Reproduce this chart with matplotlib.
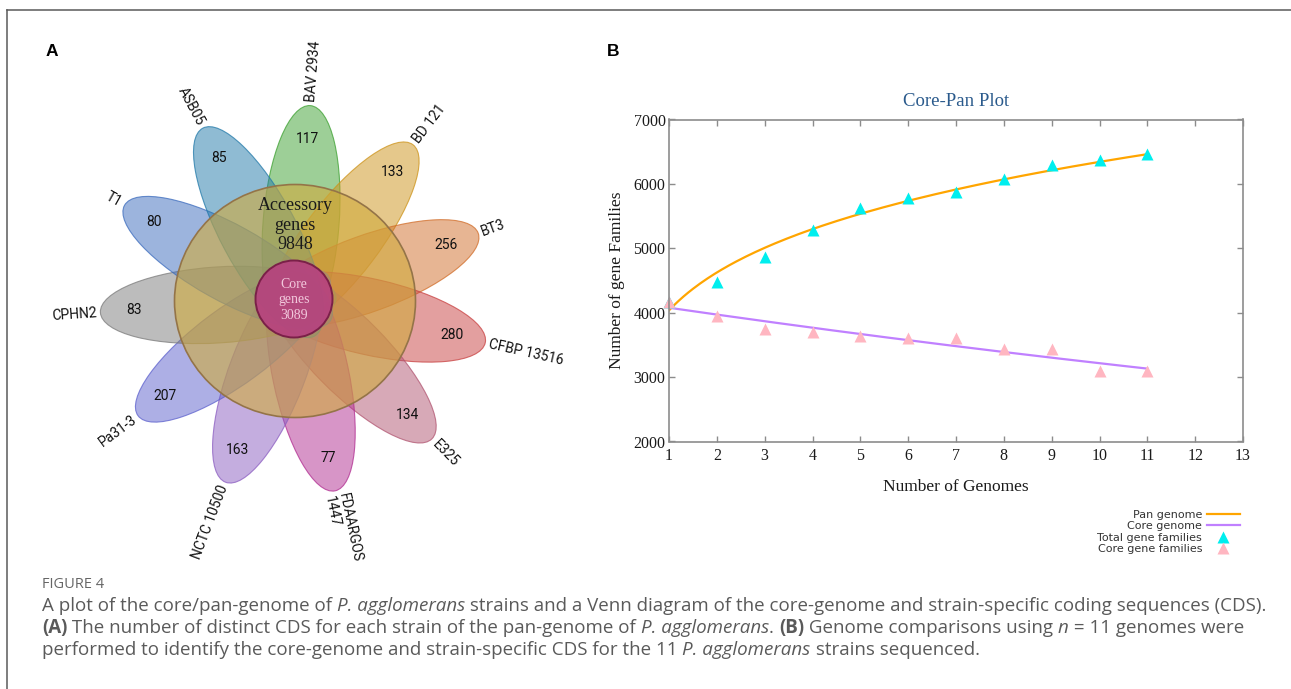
import matplotlib
matplotlib.use('Agg')
import matplotlib.pyplot as plt
from matplotlib.patches import Ellipse
from matplotlib.lines import Line2D
from matplotlib.colors import to_rgba
from matplotlib.transforms import IdentityTransform
import numpy as np

W, H = 1291, 689

# ---- panel A: flower diagram ----
strains = ['BAV 2934', 'BD 121', 'BT3', 'CFBP 13516', 'E325', 'FDAARGOS\n1447',
           'NCTC 10500', 'Pa31-3', 'CPHN2', 'T1', 'ASB05']
unique_cds = [117, 133, 256, 280, 134, 77, 163, 207, 83, 80, 85]
accessory_genes = 9848
core_genes = 3089
petal_colors = ['#3da131', '#cd9319', '#d16d29', '#c94141', '#b15571', '#b12d91',
                '#8b5dc1', '#5d61cd', '#7b7b7b', '#3b6bbd', '#2179a9']

# ---- panel B: core-pan plot ----
genomes = [1, 2, 3, 4, 5, 6, 7, 8, 9, 10, 11]
total_families = [4170, 4480, 4868, 5282, 5619, 5774, 5872, 6069, 6291, 6368, 6457]
core_families = [4170, 3952, 3746, 3695, 3642, 3602, 3602, 3431, 3431, 3095, 3089]

fig = plt.figure(figsize=(W / 100, H / 100), dpi=100)

# page frame lines (top and left)
fig.add_artist(Line2D([7 / W, 7 / W], [0, 1 - 10 / H], color='#5a5a5a', lw=1.1))
fig.add_artist(Line2D([7 / W, 1], [1 - 10 / H, 1 - 10 / H], color='#5a5a5a', lw=1.1))

# panel A, one data unit = one pixel, origin at flower centre
axa = fig.add_axes([0, 0, 600 / W, 1])
axa.set_xlim(-295, 305)
axa.set_ylim(-(H - 300), 300)
axa.axis('off')

n = len(strains)
start = 85.5
for i, (name, count, col) in enumerate(zip(strains, unique_cds, petal_colors)):
    th = start - i * 360 / n
    c, s = np.cos(np.radians(th)), np.sin(np.radians(th))
    axa.add_patch(Ellipse((77 * c, 77 * s), 236, 76, angle=th,
                          facecolor=to_rgba(col, 0.5), edgecolor=to_rgba(col, 0.75), lw=0.8))
    axa.text(161 * c, 161 * s, str(count), ha='center', va='center',
             fontsize=10, family='Roboto', color='#111111')
    if c > 0:
        rot, ha = th, 'left'
    else:
        rot, ha = th - 180 if th > 0 else th + 180, 'right'
    axa.text(199 * c, 199 * s, name, ha=ha, va='center', rotation=rot,
             rotation_mode='anchor', fontsize=10, family='Roboto', color='#111111',
             multialignment='left', linespacing=1.0)

axa.add_patch(Ellipse((0, -1), 241, 233, facecolor=to_rgba('#d0aa3c', 0.6),
                      edgecolor='#947448', lw=1.2))
axa.add_patch(Ellipse((-1, 1), 77, 77, facecolor=to_rgba('#b83e80', 0.88),
                      edgecolor='#7a2048', lw=1.4))
axa.text(0, 75, f'Accessory\ngenes\n{accessory_genes}', ha='center', va='center',
         fontsize=13, family='Liberation Serif', color='#1a1a1a', linespacing=1.2)
axa.text(-1, 0, f'Core\ngenes\n{core_genes}', ha='center', va='center',
         fontsize=10, family='Liberation Serif', color='#f2c8dc', linespacing=1.25)

fig.text(52 / W, 1 - 52 / H, 'A', fontsize=12.5, weight='bold', family='Liberation Sans',
         ha='center', va='center')
fig.text(613 / W, 1 - 52 / H, 'B', fontsize=12.5, weight='bold', family='Liberation Sans',
         ha='center', va='center')

# panel B
axb = fig.add_axes([669 / W, (H - 441.5) / H, 574 / W, 322 / H])
xs = np.array(genomes, dtype=float)
pb, pa = np.polyfit(np.log(xs), np.log(total_families), 1)
cb, ca = np.polyfit(xs, np.log(core_families), 1)
xf = np.linspace(xs.min(), xs.max(), 200)
axb.plot(xf, np.exp(pa) * xf ** pb, color='#ffa500', lw=1.6, label='Pan genome')
axb.plot(xf, np.exp(ca + cb * xf), color='#c080ff', lw=1.6, label='Core genome')
axb.plot(genomes, total_families, '^', color='#00eeee', ms=8, mec='none',
         label='Total gene families', clip_on=False)
axb.plot(genomes, core_families, '^', color='#ffb6c1', ms=8, mec='none',
         label='Core gene families', clip_on=False)

axb.set_xlim(1, 13)
axb.set_ylim(2000, 7000)
axb.set_xticks(range(1, 14))
axb.set_yticks(range(2000, 7001, 1000))
for sp in axb.spines.values():
    sp.set_color('#8c8c8c')
    sp.set_linewidth(1.2)
axb.tick_params(direction='in', length=4, width=1, color='#8c8c8c', top=True, right=True,
                labelsize=11.5, labelcolor='#1a1a1a')
axb.tick_params(axis='x', pad=5)
axb.tick_params(axis='y', pad=2.5)
for lab in axb.get_xticklabels() + axb.get_yticklabels():
    lab.set_family('Liberation Serif')

axb.set_title('Core-Pan Plot', fontsize=13.5, family='Liberation Serif', color='#2a5a8c', pad=9.5)
axb.set_xlabel('Number of Genomes', fontsize=12.5, family='Liberation Serif', color='#1a1a1a')
axb.set_ylabel('Number of gene Families', fontsize=12.5, family='Liberation Serif', color='#1a1a1a')
axb.xaxis.set_label_coords(0.5, -(487 - 441.5) / 322)
axb.xaxis.label.set_va('center')
axb.yaxis.set_label_coords((617 - 669) / 574, 0.5)
axb.yaxis.label.set_va('center')

leg = axb.legend(loc='upper right', bbox_to_anchor=(1240 / W, 1 - 510 / H),
                 bbox_transform=fig.transFigure, markerfirst=False, frameon=False,
                 fontsize=8, handlelength=3.0, handletextpad=0.4, labelspacing=0.12,
                 borderpad=0, borderaxespad=0)
for t in leg.get_texts():
    t.set_color('#333333')

# caption
renderer = fig.canvas.get_renderer()
cap_font = 'Open Sans'
cap_color = '#5a5a5a'


def style_kw(style, size):
    return dict(fontsize=size, color=cap_color, family=cap_font,
                style='italic' if style == 'i' else 'normal',
                weight='bold' if style == 'b' else 'normal')


def advance(txt, kw):
    a = fig.text(0, 0, '|' + txt + '|', **kw)
    b = fig.text(0, 0, '||', **kw)
    w = a.get_window_extent(renderer).width - b.get_window_extent(renderer).width
    a.remove()
    b.remove()
    return w


def draw_rich(parts, x_px, base_px, size):
    x = x_px
    for txt, style in parts:
        kw = style_kw(style, size)
        fig.text(x, H - base_px, txt, transform=IdentityTransform(), ha='left',
                 va='baseline', **kw)
        x += advance(txt, kw)


line1 = [('A plot of the core/pan-genome of ', 'n'), ('P. agglomerans', 'i'),
         (' strains and a Venn diagram of the core-genome and strain-specific coding sequences (CDS).', 'n')]
line2 = [('(A)', 'b'), (' The number of distinct CDS for each strain of the pan-genome of ', 'n'),
         ('P. agglomerans', 'i'), ('. ', 'n'), ('(B)', 'b'), (' Genome comparisons using ', 'n'),
         ('n', 'i'), (' = 11 genomes were', 'n')]
line3 = [('performed to identify the core-genome and strain-specific CDS for the 11 ', 'n'),
         ('P. agglomerans', 'i'), (' strains sequenced.', 'n')]

w1 = sum(advance(t, style_kw(s, 12)) for t, s in line1)
cap_size = 12 * 1221 / w1
fig.text(42, H - 588.5, 'FIGURE 4', transform=IdentityTransform(), ha='left', va='baseline',
         fontsize=cap_size * 0.78, color='#666666', family=cap_font)
draw_rich(line1, 42, 611, cap_size)
draw_rich(line2, 42, 633, cap_size)
draw_rich(line3, 42, 655, cap_size)

fig.savefig('out.png', dpi=100)
